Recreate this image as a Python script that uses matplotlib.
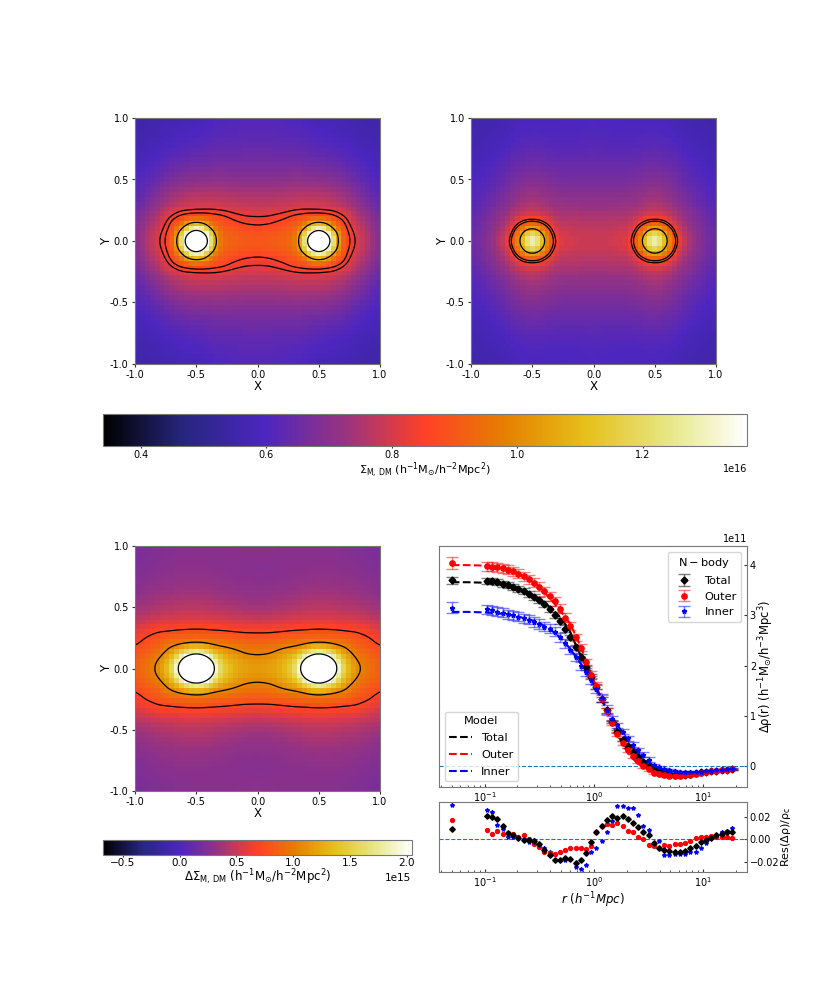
import numpy as np
import matplotlib
matplotlib.use('Agg')
import matplotlib.pyplot as plt
from matplotlib.colors import Normalize
from matplotlib.cm import ScalarMappable
from matplotlib.ticker import FormatStrFormatter
from matplotlib.tri import Triangulation, LinearTriInterpolator

# map values on one quadrant, one row for each x
xq = [0, .1, .2, .3, .35, .4, .45, .5, .55, .6, .65, .7, .8, .9, 1.0]
yq = [0, .05, .1, .15, .2, .25, .3, .4, .5, .6, .7, .8, .9, 1.0]

sigma_all = [
    [.90, .895, .865, .835, .822, .795, .775, .74, .70, .67, .65, .63, .62, .61],
    [.91, .90, .875, .84, .823, .798, .775, .74, .70, .67, .65, .63, .62, .61],
    [.92, .915, .895, .86, .835, .808, .78, .745, .70, .67, .645, .625, .615, .605],
    [.94, .935, .92, .895, .86, .82, .785, .75, .705, .67, .645, .625, .61, .60],
    [1.08, 1.06, .96, .91, .865, .825, .79, .75, .705, .67, .645, .625, .61, .60],
    [1.38, 1.30, 1.08, .94, .87, .825, .79, .75, .70, .665, .64, .62, .60, .59],
    [1.60, 1.48, 1.28, 1.02, .87, .823, .79, .75, .70, .665, .635, .615, .60, .585],
    [1.9, 1.60, 1.33, 1.04, .87, .823, .79, .75, .70, .66, .63, .61, .59, .57],
    [1.60, 1.48, 1.28, 1.02, .865, .82, .785, .745, .695, .66, .63, .61, .595, .58],
    [1.38, 1.30, 1.08, .93, .86, .82, .78, .74, .69, .655, .625, .605, .59, .575],
    [1.08, 1.06, .96, .90, .85, .81, .77, .73, .685, .65, .62, .60, .585, .57],
    [.89, .885, .87, .86, .83, .785, .76, .72, .675, .64, .615, .595, .58, .57],
    [.818, .815, .80, .78, .76, .74, .72, .68, .645, .62, .60, .58, .57, .565],
    [.76, .755, .745, .73, .715, .695, .68, .645, .62, .60, .585, .57, .56, .555],
    [.68, .68, .675, .665, .655, .64, .63, .61, .60, .585, .575, .565, .56, .555],
]
sigma_outer = [
    [.79, .785, .775, .76, .745, .73, .715, .69, .665, .645, .63, .615, .605, .60],
    [.79, .785, .775, .76, .745, .73, .715, .69, .665, .645, .625, .61, .60, .595],
    [.80, .795, .78, .765, .75, .735, .72, .69, .665, .645, .625, .61, .60, .59],
    [.82, .81, .79, .77, .75, .735, .72, .695, .67, .645, .625, .61, .60, .59],
    [.94, .905, .86, .81, .77, .745, .73, .70, .675, .65, .63, .61, .60, .59],
    [1.05, 1.01, .93, .85, .785, .755, .74, .705, .68, .655, .63, .61, .60, .59],
    [1.27, 1.20, 1.0, .885, .81, .77, .75, .715, .685, .655, .635, .615, .60, .59],
    [1.38, 1.30, 1.06, .89, .80, .775, .755, .72, .69, .66, .64, .615, .60, .59],
    [1.27, 1.20, 1.0, .885, .81, .77, .75, .715, .685, .655, .635, .615, .60, .59],
    [1.05, 1.01, .93, .85, .785, .755, .735, .70, .675, .65, .63, .61, .595, .585],
    [.94, .905, .86, .81, .77, .74, .72, .69, .665, .645, .625, .605, .59, .58],
    [.82, .80, .77, .745, .725, .71, .695, .67, .65, .63, .61, .595, .58, .575],
    [.73, .725, .715, .705, .69, .68, .665, .645, .625, .61, .595, .58, .57, .565],
    [.68, .675, .67, .665, .655, .645, .635, .62, .605, .59, .58, .57, .565, .56],
    [.64, .64, .635, .63, .625, .615, .61, .60, .59, .58, .57, .565, .56, .555],
]
delta_sigma = [
    [1.17, 1.14, 1.07, .98, .89, .80, .70, .50, .37, .31, .28, .25, .27, .30],
    [1.2, 1.17, 1.09, 1.0, .90, .81, .70, .51, .38, .31, .28, .26, .27, .29],
    [1.3, 1.27, 1.19, 1.08, .95, .83, .72, .53, .40, .33, .29, .27, .27, .28],
    [1.55, 1.50, 1.35, 1.15, .99, .85, .74, .55, .42, .35, .30, .28, .27, .27],
    [2.1, 2.0, 1.65, 1.22, 1.0, .86, .74, .56, .43, .36, .31, .28, .27, .27],
    [2.6, 2.35, 2.0, 1.35, 1.03, .87, .75, .56, .44, .37, .31, .28, .27, .27],
    [3.0, 2.75, 2.3, 1.5, 1.07, .875, .755, .57, .45, .38, .32, .29, .27, .27],
    [3.2, 2.9, 2.45, 1.6, 1.08, .88, .76, .57, .45, .38, .32, .29, .27, .27],
    [3.0, 2.75, 2.3, 1.5, 1.07, .875, .755, .57, .45, .38, .32, .29, .27, .27],
    [2.6, 2.35, 2.0, 1.35, 1.05, .87, .75, .57, .45, .38, .32, .29, .27, .26],
    [2.1, 2.0, 1.65, 1.22, 1.02, .86, .745, .56, .44, .37, .32, .29, .27, .26],
    [1.5, 1.45, 1.3, 1.13, 1.0, .84, .735, .55, .43, .36, .31, .28, .26, .25],
    [1.12, 1.09, 1.02, .92, .85, .78, .73, .54, .42, .35, .30, .27, .25, .24],
    [.96, .95, .90, .84, .79, .74, .67, .50, .39, .32, .28, .25, .23, .22],
    [.84, .83, .80, .76, .70, .64, .58, .45, .35, .29, .25, .23, .21, .20],
]
levels_all = [.82, .85, 1.05, 1.366]
levels_outer = [.85, .88, 1.05]
levels_delta = [.72, 1.05, 2.044]

# radial profiles, units of 1e11
r_first = [.0506]
r_bins = [.105, .117, .131, .146, .163, .182, .203, .227, .253, .282, .315, .352,
          .393, .438, .489, .546, .610, .681, .760, .848, .947, 1.057, 1.18, 1.317,
          1.47, 1.641, 1.832, 2.045, 2.283, 2.548, 2.845, 3.176, 3.545, 3.957, 4.417,
          4.931, 5.505, 6.145, 6.86, 7.657, 8.548, 9.542, 10.65, 11.89, 13.27, 14.82,
          16.54, 18.46]
rho_total = [3.70, 3.69, 3.68, 3.66, 3.63, 3.60, 3.56, 3.52, 3.48, 3.43, 3.37, 3.30, 3.22,
             3.12, 3.00, 2.89, 2.74, 2.57, 2.37, 2.18, 1.97, 1.78, 1.58, 1.33, 1.12, .89,
             .69, .53, .40, .28, .18, .09, -.01, -.07, -.10, -.13, -.16, -.18, -.18, -.165,
             -.15, -.13, -.12, -.105, -.10, -.085, -.07, -.065, -.06]
rho_outer = [4.05, 3.98, 3.97, 3.96, 3.94, 3.91, 3.88, 3.83, 3.78, 3.72, 3.65, 3.57, 3.48,
             3.38, 3.28, 3.13, 2.95, 2.79, 2.57, 2.36, 2.07, 1.82, 1.60, 1.34, 1.10, .86,
             .64, .47, .32, .21, .10, .01, -.06, -.13, -.16, -.18, -.19, -.195, -.19, -.18,
             -.165, -.145, -.13, -.115, -.10, -.09, -.08, -.07, -.055]
rho_inner = [3.15, 3.12, 3.10, 3.07, 3.05, 3.02, 3.00, 2.97, 2.94, 2.91, 2.87, 2.83, 2.78,
             2.74, 2.68, 2.57, 2.45, 2.32, 2.17, 2.0, 1.88, 1.71, 1.53, 1.35, 1.13, .95,
             .82, .69, .56, .43, .32, .23, .13, .03, -.01, -.05, -.08, -.10, -.11, -.12,
             -.12, -.115, -.11, -.10, -.09, -.08, -.07, -.06, -.05]
err_total = [.07] + [.06] * 16 + [.05] * 8 + [.03] * 8 + [.015] * 16
err_outer = [.12] + [.09] * 16 + [.07] * 8 + [.04] * 8 + [.02] * 16
err_inner = [.11] + [.09] * 16 + [.08] * 8 + [.05] * 8 + [.02] * 16

r_model = [.05, .07, .1, .15, .2, .3, .4, .5, .6, .7, .8, .9, 1, 1.2, 1.5, 2, 2.5, 3, 4, 5, 7, 10, 15, 20]
model_total = [3.66, 3.66, 3.65, 3.61, 3.53, 3.37, 3.16, 2.95, 2.70, 2.36, 2.10, 1.88, 1.68,
               1.30, .86, .41, .16, .05, -.10, -.16, -.17, -.125, -.09, -.055]
model_outer = [4.0, 4.0, 3.99, 3.93, 3.84, 3.62, 3.33, 3.08, 2.85, 2.55, 2.25, 1.95, 1.70,
               1.30, .80, .30, .06, -.04, -.16, -.19, -.18, -.13, -.085, -.05]
model_inner = [3.07, 3.07, 3.06, 3.03, 2.98, 2.88, 2.72, 2.55, 2.35, 2.15, 1.97, 1.80, 1.63,
               1.30, .95, .55, .27, .11, -.05, -.10, -.125, -.11, -.08, -.05]

res_total = [.0091, .0206, .0200, .0182, .0121, .0059, .0038, .0015, -.0006, -.0006, -.0015,
             -.0044, -.0094, -.0138, -.0185, -.0185, -.0168, -.0176, -.0209, -.0182, -.0124,
             -.0021, .0068, .0118, .0176, .0209, .0191, .0206, .0185, .0150, .0112, .0068,
             .0038, -.0029, -.0071, -.0094, -.0100, -.0112, -.0115, -.0100, -.0071, -.0056,
             -.0026, -.0006, .0015, .0041, .0053, .0062, .0068]
res_outer = [.0176, .0088, .0047, .0074, .0053, .0059, .0047, .0024, .0041, .0003, -.0041,
             -.0065, -.0115, -.0124, -.0129, -.0112, -.0094, -.0079, -.0076, -.0071, -.0088,
             -.0062, .0068, .0118, .0135, .0126, .0144, .0121, .0074, .0062, .0018, .0003,
             -.0050, -.0056, -.0076, -.0050, -.0059, -.0044, -.0038, -.0032, -.0009, .0015,
             .0018, .0026, .0032, .0024, .0024, .0018, .0009]
res_inner = [.0309, .0265, .0244, .0126, .0097, .0018, .0024, .0015, .0003, -.0021, -.0006,
             -.0050, -.0079, -.0115, -.0132, -.0182, -.0182, -.0173, -.0247, -.0265, -.0223,
             -.0109, -.0071, -.0012, .0062, .0162, .0294, .0297, .0282, .0282, .0221, .0118,
             .0082, -.0050, -.0012, -.0138, -.0138, -.0129, -.0129, -.0132, -.0115, -.0115,
             -.0071, -.0035, .0015, .0032, .0062, .0076, .0103]

W, H = 830, 997
GRAY = '#777777'
plt.rcParams['font.size'] = 7
plt.rcParams['xtick.color'] = '#333333'
plt.rcParams['ytick.color'] = '#333333'
plt.rcParams['xtick.labelcolor'] = 'black'
plt.rcParams['ytick.labelcolor'] = 'black'
plt.rcParams['xtick.major.size'] = 2.5
plt.rcParams['ytick.major.size'] = 2.5
plt.rcParams['xtick.minor.size'] = 1.5
plt.rcParams['ytick.minor.size'] = 1.5
plt.rcParams['mathtext.default'] = 'regular'

cmap = plt.get_cmap('CMRmap').with_extremes(over='white')


def box(left, top, right, bottom):
    ax = fig.add_axes([left / W, 1 - bottom / H, (right - left) / W, (bottom - top) / H])
    for s in ax.spines.values():
        s.set_color(GRAY)
    return ax


def mirror(q):
    q = np.array(q).T
    half = np.hstack([q[:, :0:-1], q])
    return np.vstack([half[:0:-1], half])


def soften(z, n=6):
    # rounds the corners the coarse table leaves in the contours
    k = np.exp(-0.5 * (np.arange(-3 * n, 3 * n + 1) / n) ** 2)
    k = k / k.sum()
    z = np.pad(z, 3 * n, mode='edge')
    z = np.apply_along_axis(lambda v: np.convolve(v, k, mode='same'), 0, z)
    z = np.apply_along_axis(lambda v: np.convolve(v, k, mode='same'), 1, z)
    return z[3 * n:-3 * n, 3 * n:-3 * n]


def draw_map(ax, q, norm, levels):
    x = np.array(xq)
    y = np.array(yq)
    x = np.concatenate([-x[:0:-1], x])
    y = np.concatenate([-y[:0:-1], y])
    xx, yy = np.meshgrid(x, y)
    tri = Triangulation(xx.ravel(), yy.ravel())

    fine = np.linspace(-1, 1, 401)
    fx, fy = np.meshgrid(fine, fine)
    zf = np.ma.filled(LinearTriInterpolator(tri, mirror(q).ravel())(fx, fy), np.nan)
    zf = soften(zf)

    # blocky 50x50 image like the reference
    edges = np.linspace(-1, 1, 51)
    ax.pcolormesh(edges, edges, zf[4::8, 4::8], cmap=cmap, norm=norm)
    if zf.max() > norm.vmax:
        ax.contourf(fine, fine, zf, levels=[norm.vmax, zf.max() + 1], colors='white')
    ax.contour(fine, fine, zf, levels=levels, colors='k', linewidths=0.9)

    ax.set_xlim(-1, 1)
    ax.set_ylim(-1, 1)
    ax.set_xticks([-1, -.5, 0, .5, 1])
    ax.set_yticks([-1, -.5, 0, .5, 1])
    ax.xaxis.set_major_formatter(FormatStrFormatter('%.1f'))
    ax.yaxis.set_major_formatter(FormatStrFormatter('%.1f'))
    ax.tick_params(pad=2)
    ax.set_xlabel('X', fontsize=8.5, labelpad=0)
    ax.set_ylabel('Y', fontsize=8.5, labelpad=-2)


fig = plt.figure(figsize=(W / 100, H / 100), dpi=100)

norm_top = Normalize(0.34, 1.366)
norm_bot = Normalize(-0.676, 2.044)

draw_map(box(135, 118, 380, 364), sigma_all, norm_top, levels_all)
draw_map(box(471, 118, 716, 364), sigma_outer, norm_top, levels_outer)
draw_map(box(135, 546, 380, 791), delta_sigma, norm_bot, levels_delta)

# colour bars
cax = box(103, 414, 747, 446)
cb = fig.colorbar(ScalarMappable(Normalize(0.34e16, 1.366e16), cmap), cax=cax, orientation='horizontal')
cb.set_ticks([.4e16, .6e16, .8e16, 1.0e16, 1.2e16])
cb.outline.set_edgecolor(GRAY)
cb.ax.tick_params(length=1.5, pad=1.5)
cb.set_label(r'$\Sigma_{M,\,DM}$ (h$^{-1}$M$_{\odot}$/h$^{-2}$Mpc$^{2}$)', fontsize=8, labelpad=0)

cax = box(103, 840, 411.5, 855)
cb = fig.colorbar(ScalarMappable(Normalize(-0.676e15, 2.044e15), cmap), cax=cax, orientation='horizontal')
cb.set_ticks([-.5e15, 0, .5e15, 1e15, 1.5e15, 2e15])
cb.outline.set_edgecolor(GRAY)
cb.ax.tick_params(labelsize=7.5, length=1.5, pad=1)
cb.ax.xaxis.get_offset_text().set_fontsize(7.5)
cb.set_label(r'$\Delta\Sigma_{M,\,DM}$ (h$^{-1}$M$_{\odot}$/h$^{-2}$Mpc$^{2}$)', fontsize=8.5, labelpad=-1)

# profile panel
r_all = r_first + r_bins
ax = box(439, 546, 747, 787)
ax.set_xscale('log')
ax.axhline(0, color='tab:blue', ls='--', lw=0.8)

l_total, = ax.plot(r_model, np.array(model_total) * 1e11, 'k--', lw=1.5, zorder=2)
l_outer, = ax.plot(r_model, np.array(model_outer) * 1e11, 'r--', lw=1.5, zorder=2)
l_inner, = ax.plot(r_model, np.array(model_inner) * 1e11, 'b--', lw=1.5, zorder=2)
h_total = ax.errorbar(r_all, np.array(rho_total) * 1e11, yerr=np.array(err_total) * 1e11, fmt='D', color='k',
                      ms=3.5, ecolor=(0, 0, 0, .5), elinewidth=1, capsize=4, capthick=1, zorder=3)
h_outer = ax.errorbar(r_all, np.array(rho_outer) * 1e11, yerr=np.array(err_outer) * 1e11, fmt='o', color='r',
                      ms=3.8, ecolor=(1, 0, 0, .5), elinewidth=1, capsize=4, capthick=1, zorder=3)
h_inner = ax.errorbar(r_all, np.array(rho_inner) * 1e11, yerr=np.array(err_inner) * 1e11, fmt='*', color='b',
                      ms=3.5, ecolor=(0, 0, 1, .5), elinewidth=1, capsize=4, capthick=1, zorder=3)

ax.set_xlim(.0382, 25.3)
ax.set_ylim(-.41e11, 4.38e11)
ax.yaxis.tick_right()
ax.yaxis.set_label_position('right')
ax.set_yticks([0, 1e11, 2e11, 3e11, 4e11])
ax.tick_params(which='both', direction='in', pad=2)
ax.set_ylabel(r'$\Delta\rho$(r) (h$^{-1}$M$_{\odot}$/h$^{-3}$Mpc$^{3}$)', fontsize=8.4, labelpad=0)
leg1 = ax.legend([h_total, h_outer, h_inner], ['Total', 'Outer', 'Inner'], title=r'$N-body$', loc='upper right',
                 fontsize=8.2, title_fontsize=8.2)
ax.add_artist(leg1)
ax.legend([l_total, l_outer, l_inner], ['Total', 'Outer', 'Inner'], title='Model', loc='lower left',
          fontsize=8.2, title_fontsize=8.2, labelspacing=.6)

# residual panel
ax = box(439, 802, 747, 872)
ax.set_xscale('log')
ax.axhline(0, color='tab:blue', ls='--', lw=0.8)
ax.plot(r_all, res_inner, '*', color='b', ms=3)
ax.plot(r_all, res_outer, 'o', color='r', ms=2.8)
ax.plot(r_all, res_total, 'D', color='k', ms=2.8)
ax.set_xlim(.0382, 25.3)
ax.set_ylim(-.0288, .0332)
ax.yaxis.tick_right()
ax.yaxis.set_label_position('right')
ax.set_yticks([-.02, 0, .02])
ax.tick_params(which='both', direction='in', pad=2)
ax.set_xlabel(r'$\mathit{r}$ ($\mathit{h^{-1}Mpc}$)', fontsize=8.5, labelpad=1)
ax.set_ylabel(r'Res($\Delta\rho$)/$\rho_c$', fontsize=8, labelpad=0)

fig.savefig('out.png', dpi=100)
